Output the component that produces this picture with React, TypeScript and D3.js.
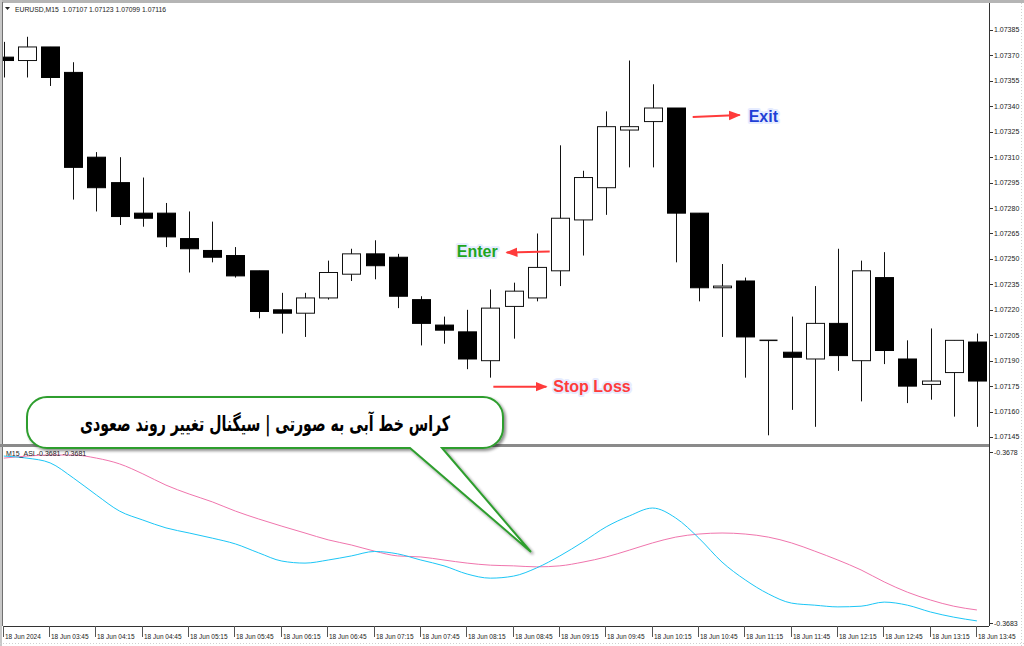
import React from 'react';
import * as d3 from 'd3';

// ---------- DATA ----------
const opens = [1.07369, 1.07367, 1.07375, 1.07360, 1.07310, 1.07295, 1.07277, 1.07277, 1.07262, 1.07255, 1.07252, 1.07243, 1.07220, 1.07218, 1.07227, 1.07241, 1.07253, 1.07251, 1.07226, 1.07211, 1.07207, 1.07190, 1.07222, 1.07227, 1.07243, 1.07273, 1.07292, 1.07326, 1.07331, 1.07339, 1.07277, 1.07233, 1.07237, 1.07202, 1.07195, 1.07191, 1.07212, 1.07190, 1.07239, 1.07191, 1.07176, 1.07183, 1.07201];
const highs = [1.07378, 1.07381, 1.07375, 1.07366, 1.07313, 1.07310, 1.07298, 1.07283, 1.07278, 1.07272, 1.07257, 1.07243, 1.07230, 1.07230, 1.07249, 1.07256, 1.07261, 1.07253, 1.07228, 1.07216, 1.07220, 1.07232, 1.07236, 1.07265, 1.07317, 1.07302, 1.07337, 1.07367, 1.07353, 1.07339, 1.07277, 1.07247, 1.07239, 1.07202, 1.07216, 1.07234, 1.07256, 1.07249, 1.07254, 1.07202, 1.07209, 1.07202, 1.07206];
const lows = [1.07357, 1.07357, 1.07352, 1.07285, 1.07278, 1.07270, 1.07269, 1.07257, 1.07242, 1.07248, 1.07239, 1.07215, 1.07206, 1.07204, 1.07226, 1.07237, 1.07238, 1.07221, 1.07199, 1.07200, 1.07185, 1.07180, 1.07203, 1.07225, 1.07234, 1.07252, 1.07276, 1.07304, 1.07304, 1.07248, 1.07225, 1.07204, 1.07180, 1.07146, 1.07161, 1.07151, 1.07184, 1.07166, 1.07188, 1.07165, 1.07167, 1.07157, 1.07151];
const closes = [1.07367, 1.07375, 1.07357, 1.07304, 1.07292, 1.07275, 1.07274, 1.07263, 1.07256, 1.07251, 1.07240, 1.07219, 1.07218, 1.07227, 1.07242, 1.07253, 1.07246, 1.07228, 1.07212, 1.07208, 1.07191, 1.07221, 1.07231, 1.07245, 1.07274, 1.07298, 1.07328, 1.07328, 1.07339, 1.07277, 1.07233, 1.07234, 1.07204, 1.07202, 1.07192, 1.07212, 1.07193, 1.07243, 1.07196, 1.07175, 1.07178, 1.07202, 1.07178];

const asiBlue = [-0.367811, -0.367817, -0.367831, -0.367875, -0.367925, -0.367972, -0.367998, -0.368021, -0.368036, -0.368051, -0.368068, -0.368094, -0.368118, -0.368124, -0.368115, -0.368103, -0.368090, -0.368097, -0.368115, -0.368132, -0.368156, -0.368168, -0.368162, -0.368138, -0.368103, -0.368062, -0.368018, -0.367986, -0.367963, -0.367992, -0.368051, -0.368121, -0.368173, -0.368214, -0.368241, -0.368247, -0.368252, -0.368250, -0.368238, -0.368247, -0.368267, -0.368282, -0.368293];
const asiPink = [-0.367817, -0.367811, -0.367808, -0.367808, -0.367817, -0.367834, -0.367863, -0.367896, -0.367922, -0.367945, -0.367972, -0.367995, -0.368016, -0.368036, -0.368056, -0.368071, -0.368089, -0.368103, -0.368106, -0.368115, -0.368124, -0.368130, -0.368132, -0.368135, -0.368132, -0.368121, -0.368106, -0.368086, -0.368065, -0.368048, -0.368039, -0.368036, -0.368039, -0.368048, -0.368065, -0.368089, -0.368115, -0.368144, -0.368179, -0.368209, -0.368232, -0.368250, -0.368261];

const priceTicks = [1.07385, 1.07370, 1.07355, 1.07340, 1.07325, 1.07310, 1.07295, 1.07280, 1.07265, 1.07250, 1.07235, 1.07220, 1.07205, 1.07190, 1.07175, 1.07160, 1.07145];
const asiTicks = [-0.3678, -0.3683];
const timeLabelBars = [0, 2, 4, 6, 8, 10, 12, 14, 16, 18, 20, 22, 24, 26, 28, 30, 32, 34, 36, 38, 40, 42];
const timeLabels = ['18 Jun 2024', '18 Jun 03:45', '18 Jun 04:15', '18 Jun 04:45', '18 Jun 05:15', '18 Jun 05:45', '18 Jun 06:15', '18 Jun 06:45', '18 Jun 07:15', '18 Jun 07:45', '18 Jun 08:15', '18 Jun 08:45', '18 Jun 09:15', '18 Jun 09:45', '18 Jun 10:15', '18 Jun 10:45', '18 Jun 11:15', '18 Jun 11:45', '18 Jun 12:15', '18 Jun 12:45', '18 Jun 13:15', '18 Jun 13:45'];

const headerText = 'EURUSD,M15  1.07107 1.07123 1.07099 1.07116';
const indicatorText = 'M15_ASI -0.3681 -0.3681';
const calloutText = 'کراس خط آبی به صورتی | سیگنال تغییر روند صعودی';

// annotation anchors (bar index, price)
const exitAt = { bar: 29, price: 1.07339 };
const enterAt = { bar: 23, price: 1.07255 };
const stopAt = { bar: 21, price: 1.07175 };

// ---------- LAYOUT ----------
const W = 1024, H = 646;
const plotL = 3, plotR = 989;
const mainT = 3, mainB = 444;
const indT = 447, indB = 626;

export default function App() {
  const x = d3.scaleLinear().domain([0, 42]).range([3.8, 976.9]);
  const y = d3.scaleLinear().domain([1.07385, 1.07145]).range([30, 437]);
  const yi = d3.scaleLinear().domain([-0.3678, -0.3683]).range([452.3, 623.3]);
  const bodyW = 18;
  const uiFont = "'Liberation Sans', Arial, sans-serif";

  const line = d3.line<number>().x((_, i) => x(i)).y((v) => yi(v)).curve(d3.curveMonotoneX);

  const candles = opens.map((o, i) => {
    const c = closes[i];
    const cx = Math.round(x(i)) + 0.5;
    const top = y(Math.max(o, c));
    const bot = y(Math.min(o, c));
    const bull = c > o;
    const h = Math.max(bot - top, 1);
    return (
      <g key={i}>
        <line x1={cx} x2={cx} y1={y(highs[i])} y2={y(lows[i])} stroke="#111" strokeWidth={1} />
        {bull ? (
          <rect x={cx - bodyW / 2} y={top} width={bodyW} height={h} fill="#fff" stroke="#111" strokeWidth={1} />
        ) : h <= 1.2 ? (
          <line x1={cx - bodyW / 2} x2={cx + bodyW / 2} y1={top} y2={top} stroke="#111" strokeWidth={1.5} />
        ) : (
          <rect x={cx - bodyW / 2} y={top} width={bodyW} height={h} fill="#000" stroke="#000" strokeWidth={1} />
        )}
      </g>
    );
  });

  const haloProps = { paintOrder: 'stroke', stroke: '#e6ecff', strokeWidth: 4, strokeLinejoin: 'round' as const };

  const exitY = y(exitAt.price) + 8;
  const exitX0 = x(exitAt.bar) + 17;
  const enterY = y(enterAt.price) + 1;
  const enterX0 = x(enterAt.bar) + 13;
  const stopY = y(stopAt.price);
  const stopX0 = x(stopAt.bar) + 3;

  // callout geometry
  const bx0 = 27, bx1 = 503, by0 = 397, by1 = 448, r = 20;
  const tailL = 410, tailR = 442, tipX = 531, tipY = 552;
  const calloutPath = `M${bx0 + r},${by0} H${bx1 - r} A${r},${r} 0 0 1 ${bx1},${by0 + r} V${by1 - r} A${r},${r} 0 0 1 ${bx1 - r},${by1} H${tailR} L${tipX},${tipY} L${tailL},${by1} H${bx0 + r} A${r},${r} 0 0 1 ${bx0},${by1 - r} V${by0 + r} A${r},${r} 0 0 1 ${bx0 + r},${by0} Z`;

  return (
    <svg width={W} height={H} style={{ position: 'absolute', left: 0, top: 0, background: '#fff' }}>
      <defs>
        <clipPath id="mainClip"><rect x={plotL} y={mainT} width={plotR - plotL} height={mainB - mainT} /></clipPath>
        <clipPath id="indClip"><rect x={plotL} y={indT} width={plotR - plotL} height={indB - indT} /></clipPath>
        <marker id="arrowR" viewBox="0 0 10 10" refX="9" refY="5" markerWidth="6" markerHeight="6" orient="auto">
          <path d="M0,1 L10,5 L0,9 Z" fill="#ff3b3b" />
        </marker>
        <filter id="shadow" x="-10%" y="-10%" width="130%" height="140%">
          <feGaussianBlur in="SourceAlpha" stdDeviation="1.5" />
          <feOffset dx="2" dy="2" result="off" />
          <feComponentTransfer><feFuncA type="linear" slope="0.45" /></feComponentTransfer>
          <feMerge><feMergeNode /><feMergeNode in="SourceGraphic" /></feMerge>
        </filter>
      </defs>

      {/* outer frame */}
      <rect x={0} y={0} width={W} height={H} fill="#fff" />
      <line x1={0} x2={W} y1={1.5} y2={1.5} stroke="#b5b5b5" strokeWidth={3} />
      <line x1={1} x2={1} y1={0} y2={H} stroke="#c8c8c8" strokeWidth={2} />
      <line x1={2.5} x2={2.5} y1={2} y2={indB} stroke="#707070" strokeWidth={1} />
      <line x1={1021.5} x2={1021.5} y1={3} y2={H} stroke="#d0d0d0" strokeDasharray="1,2" />
      <line x1={0} x2={W} y1={643.5} y2={643.5} stroke="#d0d0d0" strokeDasharray="1,2" />

      {/* panel borders */}
      <line x1={plotR + 0.5} x2={plotR + 0.5} y1={mainT} y2={indB} stroke="#333" strokeWidth={1} />
      <line x1={0} x2={plotR} y1={445.5} y2={445.5} stroke="#8a8a8a" strokeWidth={3} />
      <line x1={plotL} x2={plotR} y1={indB + 0.5} y2={indB + 0.5} stroke="#333" strokeWidth={1} />

      {/* header */}
      <path d="M5,7 L10,7 L7.5,10 Z" fill="#222" />
      <text x={15} y={12} fontFamily={uiFont} fontSize={6.8} fill="#222" style={{ whiteSpace: 'pre' }}>{headerText}</text>

      {/* price axis */}
      {priceTicks.map((p) => (
        <g key={p}>
          <line x1={plotR} x2={plotR + 4} y1={Math.round(y(p)) + 0.5} y2={Math.round(y(p)) + 0.5} stroke="#333" />
          <text x={994} y={y(p)} dy="0.35em" fontFamily={uiFont} fontSize={7} fill="#222">{p.toFixed(5)}</text>
        </g>
      ))}

      {/* candles */}
      <g clipPath="url(#mainClip)">{candles}</g>

      {/* indicator */}
      <g clipPath="url(#indClip)">
        <path d={line(asiPink) || ''} fill="none" stroke="#f075ad" strokeWidth={1} />
        <path d={line(asiBlue) || ''} fill="none" stroke="#1cc6f6" strokeWidth={1} />
      </g>
      <text x={6} y={456} fontFamily={uiFont} fontSize={7} fill="#222">{indicatorText}</text>
      {asiTicks.map((v) => (
        <g key={v}>
          <line x1={plotR} x2={plotR + 4} y1={Math.round(yi(v)) + 0.5} y2={Math.round(yi(v)) + 0.5} stroke="#333" />
          <text x={994} y={yi(v)} dy="0.35em" fontFamily={uiFont} fontSize={7} fill="#222">{v.toFixed(4)}</text>
        </g>
      ))}

      {/* time axis */}
      {timeLabelBars.map((b, i) => (
        <g key={b}>
          <line x1={Math.round(x(b)) - 0.5} x2={Math.round(x(b)) - 0.5} y1={indB} y2={indB + 11} stroke="#555" />
          <text x={Math.round(x(b)) + 1} y={638.5} fontFamily={uiFont} fontSize={6.5} fill="#222">{timeLabels[i]}</text>
        </g>
      ))}

      {/* annotations */}
      <line x1={exitX0} x2={exitX0 + 47} y1={exitY + 1} y2={exitY - 1} stroke="#ff3b3b" strokeWidth={2} markerEnd="url(#arrowR)" />
      <text x={exitX0 + 56} y={exitY + 6} fontFamily={uiFont} fontWeight="bold" fontSize={16} fill="#1f3fd6" {...haloProps}>Exit</text>

      <line x1={enterX0} x2={enterX0 - 43} y1={enterY} y2={enterY + 1} stroke="#ff3b3b" strokeWidth={2} markerEnd="url(#arrowR)" />
      <text x={enterX0 - 52} y={enterY + 6} textAnchor="end" fontFamily={uiFont} fontWeight="bold" fontSize={16} fill="#1fa51f" {...haloProps}>Enter</text>

      <line x1={stopX0} x2={stopX0 + 53} y1={stopY + 0.5} y2={stopY + 0.5} stroke="#ff3b3b" strokeWidth={2} markerEnd="url(#arrowR)" />
      <text x={stopX0 + 60} y={stopY + 6} fontFamily={uiFont} fontWeight="bold" fontSize={16} fill="#ff3b3b" {...haloProps}>Stop Loss</text>

      {/* callout */}
      <path d={calloutPath} fill="#fff" stroke="#2f9e2f" strokeWidth={2} filter="url(#shadow)" />
      <text x={265} y={431} textAnchor="middle" direction="rtl" fontFamily="'DejaVu Sans', sans-serif" fontWeight="bold" fontSize={21} textLength={370} lengthAdjust="spacingAndGlyphs" fill="#000">{calloutText}</text>
    </svg>
  );
}
